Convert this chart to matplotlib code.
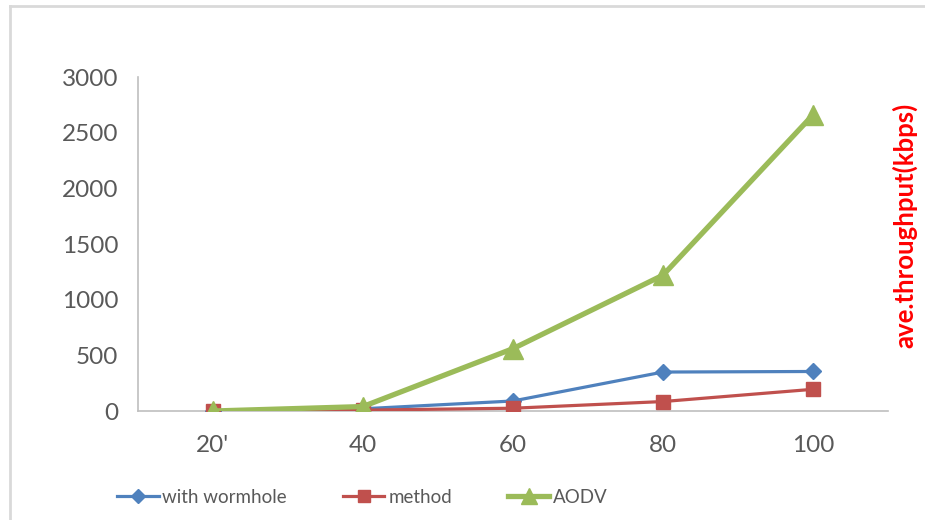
import numpy as np
import matplotlib
matplotlib.use("Agg")
from matplotlib import pyplot as plt
from matplotlib.lines import Line2D

plt.rcParams['font.family'] = ['Lato', 'DejaVu Sans']

# node counts on the x axis and throughput for each routing case
categories = ["20'", "40", "60", "80", "100"]
with_wormhole = [0, 20, 90, 350, 355]
method = [0, 8, 25, 85, 195]
aodv = [0, 40, 560, 1220, 2660]

fig = plt.figure(figsize=(9.25, 5.2), dpi=100)
ax = fig.add_axes([0.149, 0.2096, 0.811, 0.6423])

x = np.arange(len(categories))
ax.plot(x, with_wormhole, color='#4F81BD', linewidth=2.3, marker='D',
        markersize=8.5, label='with wormhole', zorder=3)
ax.plot(x, method, color='#C0504D', linewidth=2.3, marker='s',
        markersize=10.5, label='method', zorder=3)
ax.plot(x, aodv, color='#9BBB59', linewidth=3.8, marker='^',
        markersize=14, label='AODV', zorder=4)

ax.set_xlim(-0.5, len(categories) - 0.5)
ax.set_ylim(0, 3000)
ax.set_yticks(np.arange(0, 3001, 500))
ax.set_xticks(x)
ax.set_xticklabels(categories)

# plain axes: only the left and bottom lines in light gray
for side in ['top', 'right']:
    ax.spines[side].set_visible(False)
ax.spines['left'].set_color('#BFBFBF')
ax.spines['bottom'].set_color('#BFBFBF')
ax.spines['left'].set_linewidth(1.2)
ax.spines['bottom'].set_linewidth(1.2)
ax.tick_params(axis='both', length=0, labelsize=17.5, labelcolor='#595959')
ax.tick_params(axis='y', pad=14)
ax.tick_params(axis='x', pad=17)

fig.text(0.978, 0.567, 'ave.throughput(kbps)', rotation=90, color='#FF0000',
         fontsize=18.5, fontweight='bold', ha='center', va='center')

leg = ax.legend(loc='center', ncol=3, frameon=False, fontsize=13.5,
                handlelength=2.2, handletextpad=0.2, columnspacing=3.0,
                markerscale=0.8)
for t in leg.get_texts():
    t.set_color('#595959')
leg.set_bbox_to_anchor((0.392, 0.044), transform=fig.transFigure)

# light frame lines along the top and left edge of the chart area
fig.add_artist(Line2D([0.011, 0.011], [0.0, 0.989], color='#D9D9D9', linewidth=2))
fig.add_artist(Line2D([0.011, 1.0], [0.989, 0.989], color='#D9D9D9', linewidth=2))

fig.savefig('out.png', dpi=100)
